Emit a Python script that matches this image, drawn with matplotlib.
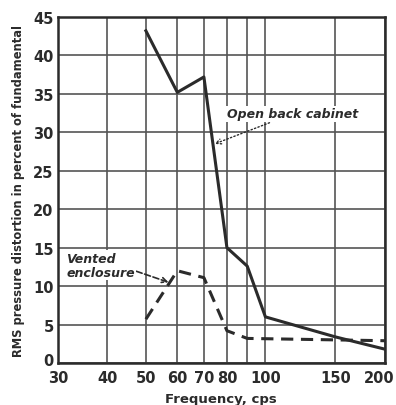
import matplotlib
matplotlib.use("Agg")
import matplotlib.pyplot as plt
import matplotlib.transforms as mtransforms
from matplotlib.ticker import FixedLocator, NullLocator

# data
open_freq = [50, 60, 70, 80, 90, 100, 150, 200]
open_dist = [43.2, 35.2, 37.2, 15.0, 12.6, 6.0, 3.4, 1.8]
vented_freq = [50, 60, 70, 80, 90, 200]
vented_dist = [5.7, 12.0, 11.1, 4.2, 3.2, 2.9]
x_ticks = [30, 40, 50, 60, 70, 80, 90, 100, 150, 200]
x_labels = ["30", "40", "50", "60", "70", "80", "", "100", "150", "200"]
y_ticks = [0, 5, 10, 15, 20, 25, 30, 35, 40, 45]

ink = "#2b2b2b"
fig = plt.figure(figsize=(3.96, 4.06), dpi=100)
ax = fig.add_axes([0.146, 0.1034, 0.826, 0.8523])
ax.set_xscale("log")
ax.set_xlim(30, 200)
ax.set_ylim(0, 45)
ax.xaxis.set_major_locator(FixedLocator(x_ticks))
ax.xaxis.set_minor_locator(NullLocator())
ax.set_xticks(x_ticks)
ax.set_xticklabels(x_labels)
ax.set_yticks(y_ticks)
ax.grid(True, color="#555555", lw=1.2)
ax.tick_params(length=0, labelsize=10.5, colors=ink)
ax.tick_params(axis="x", pad=5)
ax.tick_params(axis="y", pad=3)
for lab in ax.get_xticklabels() + ax.get_yticklabels():
    lab.set_fontweight("bold")
for s in ax.spines.values():
    s.set_linewidth(1.8)
    s.set_color(ink)

# nudge the corner labels like the printed original
xl = ax.get_xticklabels()
xl[-1].set_transform(xl[-1].get_transform() +
                     mtransforms.ScaledTranslation(-6 / 100, 0, fig.dpi_scale_trans))
yl = ax.get_yticklabels()
yl[0].set_transform(yl[0].get_transform() +
                    mtransforms.ScaledTranslation(0, 4 / 100, fig.dpi_scale_trans))

ax.plot(open_freq, open_dist, color=ink, lw=2.2, zorder=3)
ax.plot(vented_freq, vented_dist, color=ink, lw=2.2, ls=(0, (4, 2.5)), zorder=3)

ax.annotate("Open back cabinet", xy=(74.5, 28.5), xytext=(80, 32.4),
            fontsize=9, fontstyle="italic", fontweight="bold", color=ink,
            va="center", ha="left",
            bbox=dict(fc="white", ec="none", pad=1),
            arrowprops=dict(arrowstyle="->", color=ink, lw=1, ls=":",
                            shrinkA=2, shrinkB=0))
ax.annotate("Vented\nenclosure", xy=(57, 10.5), xytext=(31.5, 12.7),
            fontsize=9, fontstyle="italic", fontweight="bold", color=ink,
            va="center", ha="left", linespacing=1.1,
            bbox=dict(fc="white", ec="none", pad=1),
            arrowprops=dict(arrowstyle="->", color=ink, lw=1.2, ls="--",
                            shrinkA=0, shrinkB=0, relpos=(1, 0.3)))

ax.set_xlabel("Frequency, cps", fontsize=9.5, fontweight="bold", color=ink, labelpad=5)
ax.set_ylabel("RMS pressure distortion in percent of fundamental", fontsize=8.3,
              fontweight="bold", color=ink, labelpad=6)

fig.savefig("out.png", dpi=100)
